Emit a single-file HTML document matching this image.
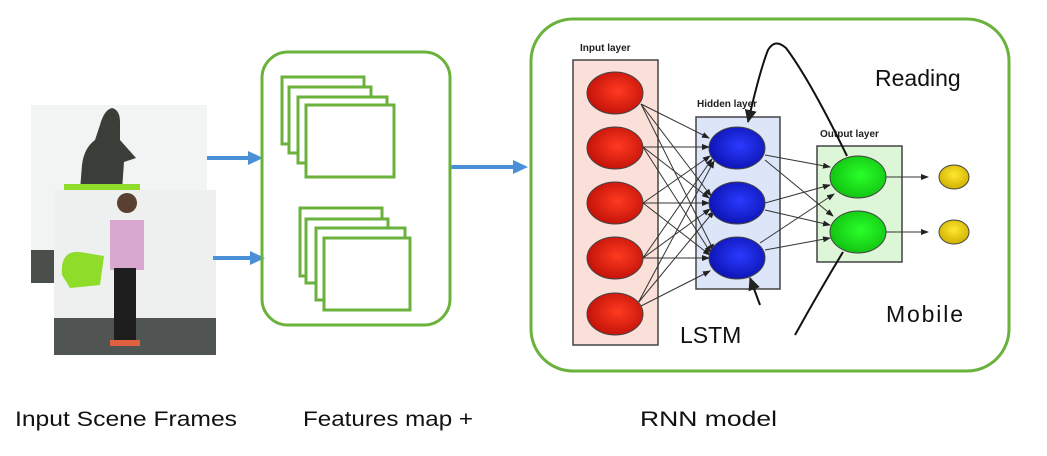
<!DOCTYPE html>
<html><head><meta charset="utf-8"><style>
body{margin:0;background:#fff;width:1047px;height:451px;overflow:hidden;font-family:"Liberation Sans",sans-serif}
</style></head><body>
<svg width="1047" height="451" viewBox="0 0 1047 451" xmlns="http://www.w3.org/2000/svg">
<defs>
<marker id="a" markerWidth="8" markerHeight="8" refX="7" refY="3" orient="auto" markerUnits="userSpaceOnUse"><path d="M0,0 L8,3 L0,6z" fill="#222"/></marker>
<marker id="b" markerWidth="14" markerHeight="14" refX="12" refY="6" orient="auto" markerUnits="userSpaceOnUse"><path d="M0,0 L13,6 L0,12z" fill="#222"/></marker>
<radialGradient id="r" cx="0.55" cy="0.45" r="0.6"><stop offset="0" stop-color="#ff3a20"/><stop offset="1" stop-color="#c01008"/></radialGradient>
<radialGradient id="bl" cx="0.55" cy="0.45" r="0.6"><stop offset="0" stop-color="#2a3aff"/><stop offset="1" stop-color="#0b12b0"/></radialGradient>
<radialGradient id="g" cx="0.55" cy="0.45" r="0.6"><stop offset="0" stop-color="#2aff2a"/><stop offset="1" stop-color="#10c010"/></radialGradient>
<radialGradient id="y" cx="0.5" cy="0.4" r="0.6"><stop offset="0" stop-color="#ffe830"/><stop offset="1" stop-color="#d0b000"/></radialGradient>
</defs>
<!-- photos -->
<rect x="31" y="105" width="176" height="178" fill="#f2f4f3"/>
<rect x="31" y="250" width="23" height="33" fill="#4a4f4c"/>
<path d="M80,190 L82,165 Q84,148 95,140 L100,125 Q104,110 112,108 Q120,110 120,122 L120,140 L136,158 L124,162 L122,190z" fill="#3a3d38"/>
<rect x="64" y="184" width="76" height="8" fill="#8fdc2a"/>
<rect x="54" y="190" width="162" height="165" fill="#eef0ef"/>
<rect x="54" y="318" width="162" height="37" fill="#505553"/>
<path d="M62,275 Q60,250 80,252 L104,256 L100,285 L70,288z" fill="#8fdc2a"/>
<rect x="110" y="220" width="34" height="50" fill="#d8a8d0"/>
<circle cx="127" cy="203" r="10" fill="#5a4030"/>
<rect x="114" y="268" width="22" height="75" fill="#1e1e1e"/>
<rect x="110" y="340" width="30" height="6" fill="#e06040"/>
<!-- blue arrows -->
<g fill="#4a90d9" stroke="#4a90d9">
<line x1="207" y1="158" x2="250" y2="158" stroke-width="4"/><path d="M248,151 L263,158 L248,165z" stroke="none"/>
<line x1="213" y1="258" x2="252" y2="258" stroke-width="4"/><path d="M250,251 L265,258 L250,265z" stroke="none"/>
<line x1="450" y1="167" x2="515" y2="167" stroke-width="4"/><path d="M513,160 L528,167 L513,174z" stroke="none"/>
</g>
<!-- feature box -->
<rect x="262" y="52" width="188" height="273" rx="26" fill="none" stroke="#6ab23c" stroke-width="3"/>
<g fill="#fff" stroke="#6ab23c" stroke-width="3">
<rect x="282" y="77" width="82" height="67"/><rect x="289" y="87" width="82" height="66"/><rect x="298" y="97" width="89" height="66"/><rect x="306" y="105" width="88" height="72"/>
<rect x="300" y="208" width="82" height="68"/><rect x="306" y="219" width="82" height="64"/><rect x="316" y="228" width="89" height="72"/><rect x="324" y="238" width="86" height="72"/>
</g>
<!-- RNN box -->
<rect x="531" y="19" width="478" height="352" rx="42" fill="none" stroke="#6ab23c" stroke-width="3"/>
<rect x="573" y="60" width="85" height="285" fill="#fbe0da" stroke="#444" stroke-width="1.5"/>
<rect x="696" y="117" width="84" height="172" fill="#dde6f8" stroke="#444" stroke-width="1.5"/>
<rect x="817" y="146" width="85" height="116" fill="#def6d8" stroke="#444" stroke-width="1.5"/>
<g font-family="Liberation Sans,sans-serif" font-weight="bold" font-size="10" fill="#222">
<text x="580" y="51">Input layer</text><text x="697" y="107">Hidden layer</text><text x="820" y="137">Output layer</text>
</g>
<g stroke="#333" stroke-width="1" marker-end="url(#a)">
<line x1="641" y1="104" x2="709" y2="138"/><line x1="641" y1="104" x2="711" y2="196"/><line x1="641" y1="104" x2="714" y2="251"/>
<line x1="643" y1="147" x2="709" y2="147"/><line x1="643" y1="147" x2="709" y2="198"/><line x1="643" y1="147" x2="711" y2="253"/>
<line x1="643" y1="203" x2="710" y2="156"/><line x1="643" y1="203" x2="709" y2="203"/><line x1="643" y1="203" x2="710" y2="255"/>
<line x1="643" y1="258" x2="712" y2="159"/><line x1="643" y1="258" x2="710" y2="209"/><line x1="643" y1="258" x2="709" y2="258"/>
<line x1="638" y1="303" x2="714" y2="161"/><line x1="638" y1="303" x2="714" y2="211"/><line x1="641" y1="306" x2="710" y2="271"/>
<line x1="765" y1="155" x2="830" y2="167"/><line x1="765" y1="160" x2="833" y2="216"/>
<line x1="765" y1="203" x2="830" y2="185"/><line x1="765" y1="210" x2="830" y2="225"/>
<line x1="760" y1="243" x2="834" y2="194"/><line x1="765" y1="250" x2="830" y2="238"/>
<line x1="886" y1="177" x2="928" y2="177"/><line x1="886" y1="232" x2="928" y2="232"/>
</g>
<g stroke="#444" stroke-width="1">
<ellipse cx="615" cy="93" rx="28" ry="21" fill="url(#r)"/><ellipse cx="615" cy="148" rx="28" ry="21" fill="url(#r)"/><ellipse cx="615" cy="203" rx="28" ry="21" fill="url(#r)"/><ellipse cx="615" cy="258" rx="28" ry="21" fill="url(#r)"/><ellipse cx="615" cy="314" rx="28" ry="21" fill="url(#r)"/>
<ellipse cx="737" cy="148" rx="28" ry="21" fill="url(#bl)"/><ellipse cx="737" cy="203" rx="28" ry="21" fill="url(#bl)"/><ellipse cx="737" cy="258" rx="28" ry="21" fill="url(#bl)"/>
<ellipse cx="858" cy="177" rx="28" ry="21" fill="url(#g)"/><ellipse cx="858" cy="232" rx="28" ry="21" fill="url(#g)"/>
<ellipse cx="954" cy="177" rx="15" ry="12" fill="url(#y)"/><ellipse cx="954" cy="232" rx="15" ry="12" fill="url(#y)"/>
</g>
<g fill="none" stroke="#111" stroke-width="2">
<path d="M847,156 Q810,80 786,48 Q775,38 768,50 Q760,70 748,122" marker-end="url(#b)"/>
<path d="M760,305 L750,278" marker-end="url(#b)"/>
<path d="M843,252 Q820,290 795,335"/>
</g>
<g font-family="Liberation Sans,sans-serif" fill="#111">
<text x="875" y="86" font-size="23">Reading</text>
<text x="886" y="322" font-size="23" textLength="77">Mobile</text>
<text x="680" y="343" font-size="23">LSTM</text>
<text x="15" y="426" font-size="21" textLength="222" lengthAdjust="spacingAndGlyphs">Input Scene Frames</text>
<text x="303" y="426" font-size="21" textLength="170" lengthAdjust="spacingAndGlyphs">Features map +</text>
<text x="640" y="426" font-size="21" textLength="137" lengthAdjust="spacingAndGlyphs">RNN model</text>
</g>
</svg>
</body></html>
